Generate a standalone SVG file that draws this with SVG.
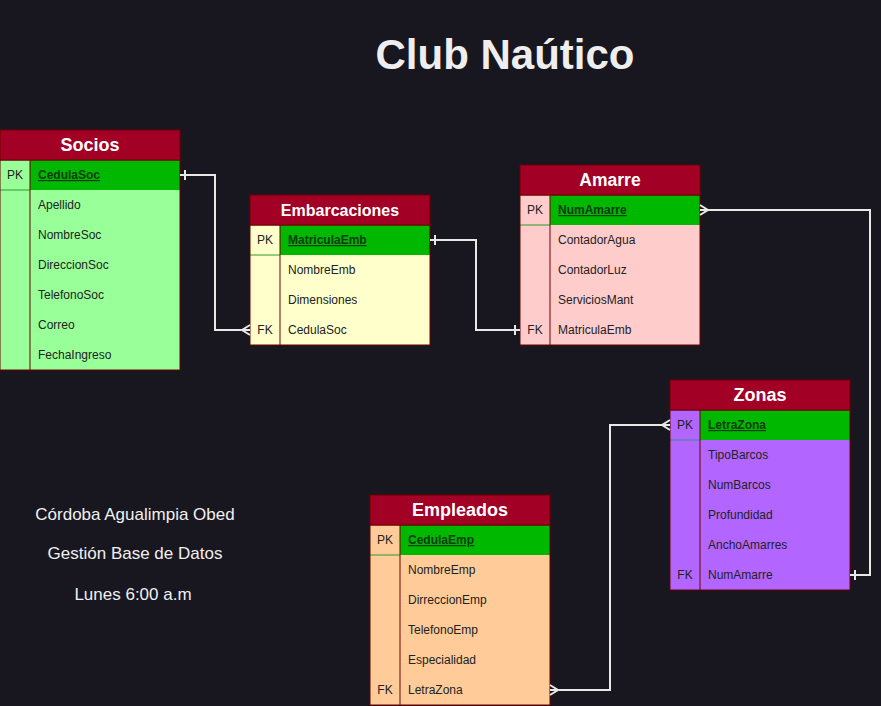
<svg xmlns="http://www.w3.org/2000/svg" width="881" height="706" viewBox="0 0 881 706">
<style>
text{font-family:"Liberation Sans",Arial,sans-serif}
.hdr{fill:#a20025;stroke:#6f0000;stroke-width:1}
.hdrt{fill:#ffffff;font-size:18px;font-weight:bold;text-anchor:middle}
.pk{fill:#00b800}
.pkt{fill:#0d3b0d;font-size:12px;font-weight:bold;text-decoration:underline}
.row{fill:#222222;font-size:12px}
.key{fill:#222222;font-size:12px;text-anchor:middle}
.brd{fill:none;stroke:#6f0000;stroke-width:1}
.conn{fill:none;stroke:#e8e8e8;stroke-width:2}
.mk{fill:none;stroke:#e8e8e8;stroke-width:2}
.side{fill:#f0f0f0;font-size:17px;text-anchor:middle}
</style>
<defs>
<marker id="one" viewBox="-12 -12 24 24" markerWidth="24" markerHeight="24" refX="0" refY="0" orient="auto-start-reverse" markerUnits="userSpaceOnUse" overflow="visible">
<path class="mk" d="M-5,-5 V5"/>
</marker>
<marker id="many" viewBox="-12 -12 24 24" markerWidth="24" markerHeight="24" refX="0" refY="0" orient="auto-start-reverse" markerUnits="userSpaceOnUse" overflow="visible">
<path class="mk" d="M0,-5 L-8,0 L0,5 M-8,0 H0"/>
</marker>
</defs>
<rect width="881" height="706" fill="#18161e"/>
<text x="505" y="69" fill="#eeeeee" font-size="42" font-weight="bold" text-anchor="middle">Club Naútico</text>
<g id="info">
<text class="side" x="135" y="520">Córdoba Agualimpia Obed</text>
<text class="side" x="135" y="559">Gestión Base de Datos</text>
<text class="side" x="133" y="600">Lunes 6:00 a.m</text>
</g>

<g id="socios">
<rect x="0" y="160" width="180" height="210" fill="#99ff99"/>
<rect class="pk" x="30" y="160" width="150" height="30"/>
<line x1="0" y1="190" x2="30" y2="190" stroke="#2a9a2a"/>
<line x1="30" y1="160" x2="30" y2="370" stroke="#6f0000"/>
<rect class="brd" x="0" y="160" width="180" height="210"/>
<rect class="hdr" x="0" y="130" width="180" height="30"/>
<text class="hdrt" x="90" y="151">Socios</text>
<text class="key" x="15" y="179">PK</text>
<text class="pkt" x="38" y="179">CedulaSoc</text>
<text class="row" x="38" y="209">Apellido</text>
<text class="row" x="38" y="239">NombreSoc</text>
<text class="row" x="38" y="269">DireccionSoc</text>
<text class="row" x="38" y="299">TelefonoSoc</text>
<text class="row" x="38" y="329">Correo</text>
<text class="row" x="38" y="359">FechaIngreso</text>
</g>

<g id="embarcaciones">
<rect x="250" y="225" width="180" height="120" fill="#ffffcc"/>
<rect class="pk" x="280" y="225" width="150" height="30"/>
<line x1="250" y1="255" x2="280" y2="255" stroke="#2a9a2a"/>
<line x1="280" y1="225" x2="280" y2="345" stroke="#6f0000"/>
<rect class="brd" x="250" y="225" width="180" height="120"/>
<rect class="hdr" x="250" y="195" width="180" height="30"/>
<text class="hdrt" x="340" y="216" style="font-size:16px">Embarcaciones</text>
<text class="key" x="265" y="244">PK</text>
<text class="pkt" x="288" y="244">MatriculaEmb</text>
<text class="row" x="288" y="274">NombreEmb</text>
<text class="row" x="288" y="304">Dimensiones</text>
<text class="key" x="265" y="334">FK</text>
<text class="row" x="288" y="334">CedulaSoc</text>
</g>

<g id="amarre">
<rect x="520" y="195" width="180" height="150" fill="#ffcccc"/>
<rect class="pk" x="550" y="195" width="150" height="30"/>
<line x1="520" y1="225" x2="550" y2="225" stroke="#2a9a2a"/>
<line x1="550" y1="195" x2="550" y2="345" stroke="#6f0000"/>
<rect class="brd" x="520" y="195" width="180" height="150"/>
<rect class="hdr" x="520" y="165" width="180" height="30"/>
<text class="hdrt" x="610" y="186" style="font-size:17.5px">Amarre</text>
<text class="key" x="535" y="214">PK</text>
<text class="pkt" x="558" y="214">NumAmarre</text>
<text class="row" x="558" y="244">ContadorAgua</text>
<text class="row" x="558" y="274">ContadorLuz</text>
<text class="row" x="558" y="304">ServiciosMant</text>
<text class="key" x="535" y="334">FK</text>
<text class="row" x="558" y="334">MatriculaEmb</text>
</g>

<g id="zonas">
<rect x="670" y="410" width="180" height="180" fill="#b266ff"/>
<rect class="pk" x="700" y="410" width="150" height="30"/>
<line x1="670" y1="440" x2="700" y2="440" stroke="#3a8a8a"/>
<line x1="700" y1="410" x2="700" y2="590" stroke="#6f0000"/>
<rect class="brd" x="670" y="410" width="180" height="180"/>
<rect class="hdr" x="670" y="380" width="180" height="30"/>
<text class="hdrt" x="760" y="401">Zonas</text>
<text class="key" x="685" y="429">PK</text>
<text class="pkt" x="708" y="429">LetraZona</text>
<text class="row" x="708" y="459">TipoBarcos</text>
<text class="row" x="708" y="489">NumBarcos</text>
<text class="row" x="708" y="519">Profundidad</text>
<text class="row" x="708" y="549">AnchoAmarres</text>
<text class="key" x="685" y="579">FK</text>
<text class="row" x="708" y="579">NumAmarre</text>
</g>

<g id="empleados">
<rect x="370" y="525" width="180" height="180" fill="#ffcc99"/>
<rect class="pk" x="400" y="525" width="150" height="30"/>
<line x1="370" y1="555" x2="400" y2="555" stroke="#2a9a2a"/>
<line x1="400" y1="525" x2="400" y2="705" stroke="#6f0000"/>
<rect class="brd" x="370" y="525" width="180" height="180"/>
<rect class="hdr" x="370" y="495" width="180" height="30"/>
<text class="hdrt" x="460" y="516">Empleados</text>
<text class="key" x="385" y="544">PK</text>
<text class="pkt" x="408" y="544">CedulaEmp</text>
<text class="row" x="408" y="574">NombreEmp</text>
<text class="row" x="408" y="604">DirreccionEmp</text>
<text class="row" x="408" y="634">TelefonoEmp</text>
<text class="row" x="408" y="664">Especialidad</text>
<text class="key" x="385" y="694">FK</text>
<text class="row" x="408" y="694">LetraZona</text>
</g>

<g id="connectors">
<path class="conn" d="M180,175 H215 V330 H250" marker-start="url(#one)" marker-end="url(#many)"/>
<path class="conn" d="M430,240 H476 V330 H520" marker-start="url(#one)" marker-end="url(#one)"/>
<path class="conn" d="M700,210 H870 V575 H850" marker-start="url(#many)" marker-end="url(#one)"/>
<path class="conn" d="M550,690 H610 V425 H670" marker-start="url(#many)" marker-end="url(#many)"/>
</g>
</svg>
